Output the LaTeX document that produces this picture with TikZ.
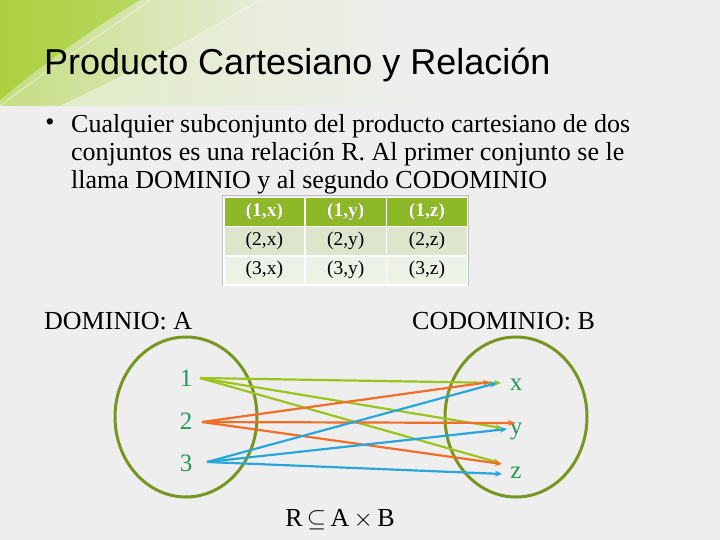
\documentclass[tikz,border=0pt]{standalone}
\usepackage{fontspec}
\setmainfont{Liberation Serif}
\newfontfamily\titlefont{Liberation Sans}
\usetikzlibrary{arrows.meta}

\definecolor{fondo}{RGB}{238,238,238}
\definecolor{verdefuerte}{RGB}{172,208,64}
\definecolor{verdepalido}{RGB}{222,235,190}
\definecolor{olivo}{RGB}{118,150,32}
\definecolor{verdetexto}{RGB}{38,150,90}
\definecolor{lima}{RGB}{155,196,30}
\definecolor{naranja}{RGB}{240,110,40}
\definecolor{azul}{RGB}{40,166,220}
\definecolor{cabtabla}{RGB}{141,184,40}
\definecolor{fila2}{RGB}{220,230,205}
\definecolor{fila3}{RGB}{237,242,230}

\tikzset{
  texto/.style={anchor=base west,font=\fontsize{26}{30}\selectfont},
  elem/.style={anchor=base,text=verdetexto,font=\fontsize{25}{30}\selectfont},
  conj/.style={draw=olivo,line width=3pt},
  flecha/.style={line width=2.2pt,-{Stealth[length=7pt,width=6pt]}},
  celda/.style={draw=white,line width=1.5pt,minimum width=81.3pt,minimum height=29pt,font=\fontsize{19.5}{22}\selectfont}
}

\begin{document}
\begin{tikzpicture}[x=1pt,y=-1pt,every node/.style={inner sep=0pt}]
\useasboundingbox (0,0) rectangle (720,540);
\fill[fondo] (0,0) rectangle (720,540);

% cabecera
\shade[left color=verdepalido,right color=fondo] (0,0) rectangle (420,106);
\fill[fondo] (420,0) rectangle (720,106);
\shade[left color=verdefuerte!60!verdepalido,right color=verdepalido!50!fondo,opacity=0.8] (0,0) -- (260,0) .. controls (190,40) and (120,80) .. (60,106) -- (0,106) -- cycle;
\shade[left color=verdefuerte,right color=verdefuerte!75!verdepalido] (0,0) -- (140,0) .. controls (90,30) and (35,70) .. (0,100) -- cycle;
\draw[white,opacity=0.5,line width=1pt] (150,0) .. controls (100,35) and (40,75) .. (0,106);
\draw[white,opacity=0.4,line width=1pt] (260,0) .. controls (190,40) and (120,80) .. (60,106);

\node[anchor=base west,font=\titlefont\fontsize{36}{40}\selectfont] (titulo) at (44,75) {Producto Cartesiano y Relación};

\node[font=\fontsize{26}{30}\selectfont] (vineta) at (50,125) {\textbullet};
\node[texto] (l1) at (71,133) {Cualquier subconjunto del producto cartesiano de dos};
\node[texto] (l2) at (71,161) {conjuntos es una relación R. Al primer conjunto se le};
\node[texto] (l3) at (71,189) {llama DOMINIO y al segundo CODOMINIO};

% tabla
\draw[black!25,line width=1pt] (222,196) rectangle (468,285);
\foreach \i/\f in {1/cabtabla,2/fila2,3/fila3}
  \foreach \j/\c in {1/x,2/y,3/z}
    \node[celda,fill=\f,anchor=north west] (t\i\c) at ({223+81.3*(\j-1)},{197+29*(\i-1)}) {(\i,\c)};
\foreach \c in {x,y,z}
  \node[font=\bfseries\fontsize{19.5}{22}\selectfont,text=white] at (t1\c) {(1,\c)};

\node[texto] (dom) at (44,329) {DOMINIO: A};
\node[texto] (codom) at (412,329) {CODOMINIO: B};

\draw[conj] (186,417) ellipse (71 and 80);
\draw[conj] (516,417) ellipse (71 and 80);

\node[elem] (d1) at (186,386) {1};
\node[elem] (d2) at (186,429) {2};
\node[elem] (d3) at (186,471) {3};
\node[elem] (cx) at (516,390) {x};
\node[elem] (cy) at (516,434) {y};
\node[elem] (cz) at (516,478) {z};

\coordinate (s1) at (200,378);
\coordinate (s2) at (202,422);
\coordinate (s3) at (207,462);
\coordinate (gx) at (501,383);
\coordinate (gy) at (502,428);
\coordinate (gz) at (500,463);
\coordinate (ox) at (490,382);
\coordinate (oy) at (515,423);
\coordinate (oz) at (502,464);
\coordinate (bx) at (497,383);
\coordinate (by) at (507,429);
\coordinate (bz) at (502,474);

\foreach \a/\b/\c in {s1/gx/lima,s1/gy/lima,s1/gz/lima,s2/ox/naranja,s2/oy/naranja,s2/oz/naranja,s3/bx/azul,s3/by/azul,s3/bz/azul}
  \draw[flecha,\c] (\a) -- (\b);

\node[anchor=base,font=\fontsize{26}{30}\selectfont] (rel) at (340,526) {R\,$\subseteq$\,A\,$\times$\,B};
\end{tikzpicture}
\end{document}
